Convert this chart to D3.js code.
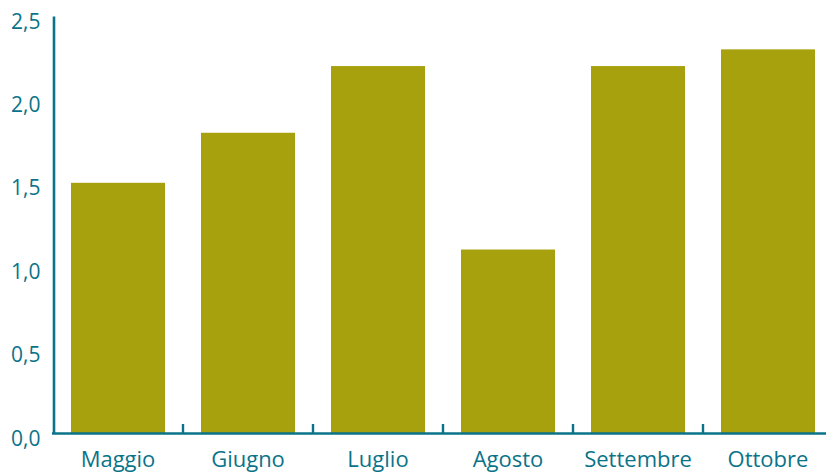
<!DOCTYPE html>
<html>
<head>
<meta charset="utf-8">
<script src="https://cdn.jsdelivr.net/npm/d3@7"></script>
<style>
  html, body { margin: 0; padding: 0; background: #fff; }
  svg { display: block; }
  text { font-family: "Open Sans", "Noto Sans", sans-serif; fill: #0b7389; }
</style>
</head>
<body>
<svg id="chart" width="826" height="473"></svg>
<script>
// Monthly values
const months = ["Maggio", "Giugno", "Luglio", "Agosto", "Settembre", "Ottobre"];
const values = [1.5, 1.8, 2.2, 1.1, 2.2, 2.3];
const yTicks = [0, 0.5, 1.0, 1.5, 2.0, 2.5];

const width = 826, height = 473;
const axisColor = "#0b7389";
const barColor = "#a8a10e";

const svg = d3.select("#chart");

const x = d3.scaleBand()
  .domain(months)
  .range([53, 833])
  .paddingInner(0.277)
  .paddingOuter(0.1385);

const y = d3.scaleLinear()
  .domain([0, 2.5])
  .range([433, 16]);

const fmt = d => d3.format(".1f")(d).replace(".", ",");

// Bars
svg.append("g")
  .selectAll("rect")
  .data(months.map((m, i) => ({ m, v: values[i] })))
  .join("rect")
  .attr("x", d => x(d.m))
  .attr("y", d => y(d.v))
  .attr("width", x.bandwidth())
  .attr("height", d => y(0) - y(d.v))
  .attr("fill", barColor);

// Y axis
const yAxis = svg.append("g")
  .attr("transform", "translate(53.5,0)")
  .call(d3.axisLeft(y).tickValues(yTicks).tickFormat(fmt).tickSize(0).tickPadding(13));
yAxis.select(".domain").attr("stroke", axisColor).attr("stroke-width", 2.6);
yAxis.selectAll("text")
  .attr("font-size", 21)
  .attr("dy", "0.58em")
  .attr("fill", axisColor);

// X axis: baseline with upward ticks at band boundaries
const step = x.step();
const boundaries = months.slice(1).map(m => x(m) - x.paddingInner() * step / 2);
const xAxis = svg.append("g");
xAxis.append("line")
  .attr("x1", 52).attr("x2", width)
  .attr("y1", y(0) + 0.5).attr("y2", y(0) + 0.5)
  .attr("stroke", axisColor).attr("stroke-width", 2.6);
xAxis.selectAll("line.tick")
  .data(boundaries)
  .join("line")
  .attr("class", "tick")
  .attr("x1", d => d).attr("x2", d => d)
  .attr("y1", y(0)).attr("y2", y(0) - 9)
  .attr("stroke", axisColor).attr("stroke-width", 2.4);
xAxis.selectAll("text")
  .data(months)
  .join("text")
  .attr("x", d => x(d) + x.bandwidth() / 2)
  .attr("y", 467)
  .attr("text-anchor", "middle")
  .attr("font-size", 22)
  .attr("fill", axisColor)
  .text(d => d);
</script>
</body>
</html>
